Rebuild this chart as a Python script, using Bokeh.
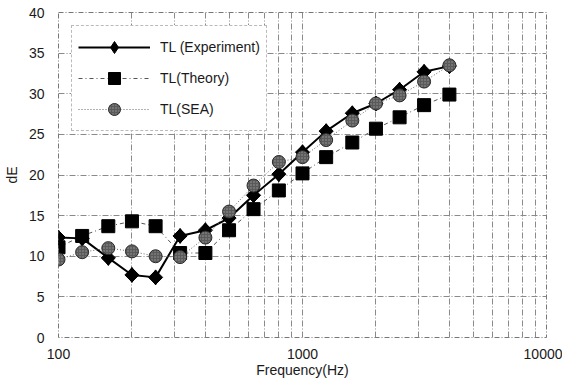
import math
from bokeh.plotting import figure
from bokeh.models import FixedTicker, Range1d, Legend, LegendItem
from bokeh.embed import file_html
from bokeh.resources import INLINE

freqs = [100, 125, 160, 200, 250, 315, 400, 500, 630, 800, 1000, 1250, 1600, 2000, 2500, 3150, 4000]
tl_experiment = [12.3, 12.2, 9.8, 7.7, 7.4, 12.5, 13.2, 14.7, 17.5, 20.1, 22.8, 25.4, 27.6, 28.8, 30.5, 32.7, 33.4]
tl_theory = [11.1, 12.5, 13.7, 14.3, 13.7, 10.4, 10.4, 13.2, 15.8, 18.1, 20.2, 22.2, 24.0, 25.7, 27.1, 28.6, 29.9]
tl_sea = [9.6, 10.5, 11.0, 10.6, 10.0, 9.9, 12.3, 15.5, 18.7, 21.6, 22.2, 24.3, 26.7, 28.8, 29.8, 31.5, 33.5]

x_major = [100, 1000, 10000]
x_minor = [200, 300, 400, 500, 600, 700, 800, 900, 2000, 3000, 4000, 5000, 6000, 7000, 8000, 9000]
y_ticks = [0, 5, 10, 15, 20, 25, 30, 35, 40]

FONT = "Liberation Sans"

p = figure(width=562, height=383, x_axis_type="log", output_backend="svg",
           toolbar_location=None, x_range=Range1d(100, 10000), y_range=Range1d(0, 40),
           min_border_left=58, min_border_right=16, min_border_top=12, min_border_bottom=46)
p.background_fill_color = "white"
p.border_fill_color = "white"
p.outline_line_color = "#777777"
p.outline_line_dash = "5 2 1 2"

p.xaxis.ticker = FixedTicker(ticks=x_major, minor_ticks=x_minor)
p.yaxis.ticker = FixedTicker(ticks=y_ticks)
p.xaxis.major_label_overrides = {100: "100", 1000: "1000", 10000: "10000"}

for ax in (p.xaxis, p.yaxis):
    ax.axis_line_color = None
    ax.major_tick_line_color = None
    ax.minor_tick_line_color = None
    ax.major_label_text_font = FONT
    ax.major_label_text_font_size = "14px"
    ax.major_label_text_color = "#1a1a1a"
    ax.axis_label_text_font = FONT
    ax.axis_label_text_font_size = "14px"
    ax.axis_label_text_font_style = "normal"
    ax.axis_label_text_color = "#1a1a1a"

p.xaxis.axis_label = "Frequency(Hz)"
p.yaxis.axis_label = "dE"
p.xaxis.major_label_standoff = 5
p.xaxis.axis_label_standoff = 0
p.yaxis.major_label_standoff = 8
p.yaxis.axis_label_standoff = 6

for g in (p.xgrid, p.ygrid):
    g.grid_line_color = "#8a8a8a"
    g.grid_line_dash = "6 2 1 2"
    g.grid_line_width = 1
p.xgrid.minor_grid_line_color = "#8a8a8a"
p.xgrid.minor_grid_line_dash = "6 2 1 2"

# Experiment
r1l = p.line(freqs, tl_experiment, line_color="black", line_width=2)
# diamond (used for the legend symbol), covered by a rotated square of the same footprint
r1leg = p.scatter(freqs, tl_experiment, marker="diamond", size=15, fill_color="black", line_color="black")
r1m = p.scatter(freqs, tl_experiment, marker="square", size=10, angle=math.pi / 4,
                fill_color="black", line_color="black")
# Theory
r2l = p.line(freqs, tl_theory, line_color="#555555", line_width=1, line_dash="4 3 1 3")
r2m = p.scatter(freqs, tl_theory, marker="square", size=13, fill_color="black", line_color="black")
# SEA
r3l = p.line(freqs, tl_sea, line_color="#666666", line_width=1, line_dash="1 2")
r3m = p.scatter(freqs, tl_sea, marker="circle", size=13, fill_color="#5a5a5a", line_color="#2a2a2a",
                hatch_pattern="dot", hatch_color="#9a9a9a", hatch_scale=3)

legend = Legend(items=[
    LegendItem(label="TL (Experiment)", renderers=[r1l, r1leg]),
    LegendItem(label="TL(Theory)", renderers=[r2l, r2m]),
    LegendItem(label="TL(SEA)", renderers=[r3l, r3m]),
], location="top_left")
legend.margin = 13
legend.padding = 6
legend.spacing = 1
legend.glyph_width = 72
legend.glyph_height = 30
legend.label_standoff = 10
legend.label_text_font = FONT
legend.label_text_font_size = "14px"
legend.label_text_color = "#1a1a1a"
legend.border_line_color = "#777777"
legend.border_line_dash = "4 2 1 2"
legend.background_fill_alpha = 1.0
p.add_layout(legend, "center")

open("out.html", "w").write(file_html(p, INLINE))
